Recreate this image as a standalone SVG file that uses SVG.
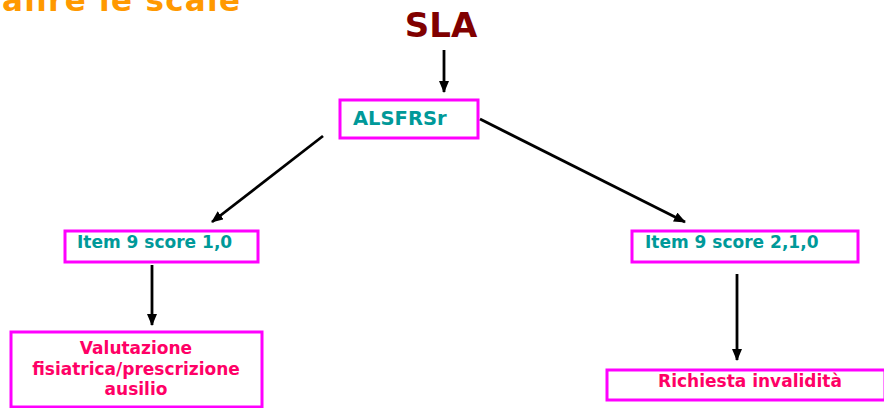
<svg xmlns="http://www.w3.org/2000/svg" width="884" height="408" viewBox="0 0 884 408">
<defs>
<style>
.t{font-family:"DejaVu Sans","Liberation Sans",sans-serif;font-weight:bold}
.box{fill:#fff;stroke:#ff00ff;stroke-width:3}
.teal{fill:#009999}
.pink{fill:#ff0066}
.c{stroke:#000;stroke-width:2.8;fill:none;marker-end:url(#ah)}
</style>
<marker id="ah" markerWidth="12" markerHeight="10" refX="11" refY="5" orient="auto" markerUnits="userSpaceOnUse" viewBox="0 0 12 10">
<path d="M0,0 L12,5 L0,10 Z" fill="#000"/>
</marker>
</defs>
<rect width="884" height="408" fill="#fff"/>
<text class="t" x="2" y="11" font-size="31" fill="#ff9900" textLength="238" lengthAdjust="spacing">aiire le scale</text>
<g id="sla"><text class="t" x="441" y="37" font-size="34" fill="#800000" text-anchor="middle">SLA</text></g>
<g id="alsfrs"><rect class="box" x="340" y="100" width="138" height="38"/><text class="t teal" x="353" y="125" font-size="19.5">ALSFRSr</text></g>
<g id="item1"><rect class="box" x="65" y="231" width="193" height="31"/><text class="t teal" x="77" y="248" font-size="17">Item 9 score 1,0</text></g>
<g id="item2"><rect class="box" x="632" y="231" width="226" height="31"/><text class="t teal" x="645" y="248" font-size="17">Item 9 score 2,1,0</text></g>
<g id="valutazione"><rect class="box" x="11" y="332" width="251" height="75"/>
<text class="t pink" font-size="17" text-anchor="middle"><tspan x="136" y="354">Valutazione</tspan><tspan x="136" y="375">fisiatrica/prescrizione</tspan><tspan x="136" y="395">ausilio</tspan></text></g>
<g id="richiesta"><rect class="box" x="607" y="370" width="278" height="30"/><text class="t pink" x="750" y="387" font-size="17" text-anchor="middle">Richiesta invalidità</text></g>
<g id="connectors">
<line class="c" x1="444" y1="50" x2="444" y2="92"/>
<line class="c" x1="323" y1="136" x2="212" y2="222"/>
<line class="c" x1="480" y1="119" x2="685" y2="222"/>
<line class="c" x1="152" y1="265" x2="152" y2="325"/>
<line class="c" x1="737" y1="274" x2="737" y2="360"/>
</g>
</svg>
